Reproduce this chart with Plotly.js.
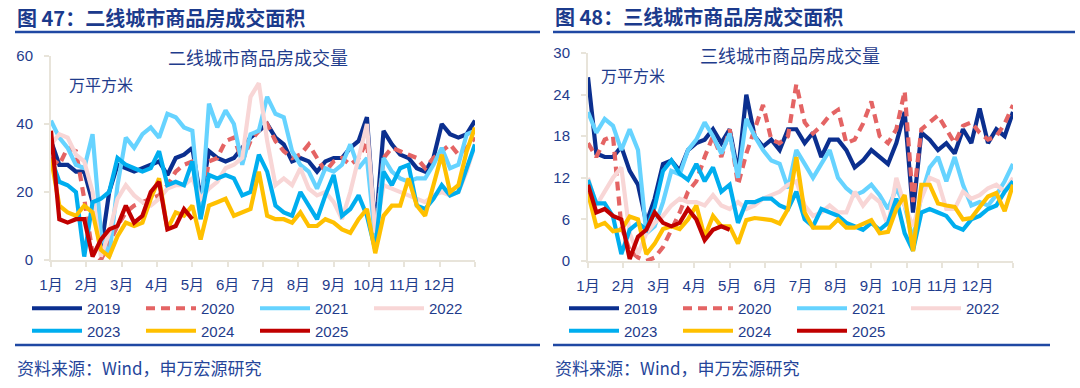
<!DOCTYPE html>
<html>
<head>
<meta charset="utf-8">
<script src="https://cdn.plot.ly/plotly-3.0.1.min.js"></script>
<style>
  html, body { margin: 0; padding: 0; background: #ffffff; }
  #wrap { width: 1080px; height: 388px; position: relative; overflow: hidden; }
  .panel { width: 540px; height: 388px; position: absolute; top: 0; }
  #p1 { left: 0; }
  #p2 { left: 540px; }
</style>
</head>
<body>
<div id="wrap"><div id="p1" class="panel"></div><div id="p2" class="panel"></div></div>
<script>
// ---------- data (weekly values, 万平方米) ----------
const years = ["2019", "2020", "2021", "2022", "2023", "2024", "2025"];
const monthLabels = ["1月","2月","3月","4月","5月","6月","7月","8月","9月","10月","11月","12月"];

// 二线城市
const tier2_2019 = [35,28,28,26,26,17,3,20,28,27,26,27,28,29,25,30,31,33,18,32,30,29,30,33,36,38,40,36,34,29,30,29,26,29,30,30,33,35,42,8,38,34,31,30,27,26,30,40,37,36,37,41];
const tier2_2020 = [30,28,33,32,18,2,0,5,10,14,16,17,18,19,22,26,28,29,15,29,30,35,36,29,35,38,40,35,32,30,31,34,30,26,29,30,28,30,35,8,30,33,32,31,30,27,30,32,34,31,33,36];
const tier2_2021 = [41,36,33,28,27,37,8,1,22,36,33,37,39,36,43,42,39,38,12,46,39,44,40,28,37,38,48,43,42,32,28,26,21,27,26,28,34,27,30,6,30,26,24,23,24,24,28,33,27,28,37,38];
const tier2_2022 = [34,37,36,31,29,20,1,8,18,22,19,17,16,18,21,22,22,24,18,21,23,27,28,30,48,52,35,22,24,22,27,21,19,20,17,12,20,30,40,8,22,21,20,19,18,17,19,20,19,20,26,34];
const tier2_2023 = [30,23,22,20,1,17,18,20,30,28,27,26,27,32,22,23,22,29,12,25,24,25,24,19,20,31,26,16,14,13,20,16,12,19,25,13,15,19,13,3,26,22,27,28,16,15,18,22,19,20,27,34];
const tier2_2024 = [30,16,14,13,16,14,3,1,7,11,10,11,18,24,9,14,13,16,6,16,17,18,13,14,15,26,13,12,12,11,14,10,10,12,11,9,8,12,15,2,13,16,16,24,16,13,22,31,20,22,32,39];
const tier2_2025 = [38,12,11,12,12,1,6,9,10,16,11,13,20,23,9,10,15,12];

// 三线城市
const tier3_2019 = [26.5,15.5,15,15,16.5,13,11,5.5,9,14,14.5,13,16,17,17.5,19,17,19,12.7,24,18,16.5,17.5,16,19,19,17,18.5,15,17.5,17.5,16,13.5,14.5,16,15,14,17,21.5,7,18.5,17.5,16,17,15.5,19,17,22,17,19,18,21.5];
const tier3_2020 = [17,15,17.5,18,5,1.5,0.5,0,0.5,2,4.5,7,10,11.5,15,18,15,19,11,15.5,19,22.5,17.5,17,18,25.5,20,18.4,19.5,21,21.8,17,17.5,19.8,23,18,17,19,24.5,8.5,19,20,21,19,17,19.5,20,18.5,17.5,18,19.8,22.5];
const tier3_2021 = [21.5,18.5,20.5,19.5,16,19,16,4,5,8.5,13,12.5,16,17.5,20,18,15.5,18.4,12,20.5,18,16,14.5,14,10.5,16,14,12,14,16,12,10.5,9.5,10,11,9.5,7.5,10.5,8,3,9.5,13.5,15,11.5,15,11,8,8.5,8,9.5,11.5,14];
const tier3_2022 = [12,8,10,12,13.5,4,1,4,5.5,6.5,8,9,8.5,8.5,8,9.5,8,7.5,8.5,7.5,8,9,9.5,10,11,11.5,8,6.5,7,8,7,7,10,8,9.5,8.5,5,12,8,5,9,12,11.5,7.5,7.5,10,9,9.5,10.5,11,10,12];
const tier3_2023 = [11.7,8.3,8.3,6.4,1,4.5,5.5,4.5,7.8,13,14.5,12.6,11.7,14,11.5,13.5,10,11,5.5,8.5,8.5,9,9,8,7.5,10,6,5,7.5,7,6.5,5.5,5,4.5,5.5,4.5,5.5,9,4,1.5,7,7.5,7,6.5,5,4.5,6,6.5,7.5,8,10,11.5];
const tier3_2024 = [9.8,5,5.5,4.3,4.5,6.4,6,1,2.5,4.6,5,4.6,6,8,3.5,6.5,5,5,2.5,5.9,6.2,6,5.9,5.4,7.5,15,7,4.8,4.8,4.8,6,4.8,4.8,5.4,5.9,4,4.2,7.5,9.5,1.4,11,11,8.3,8,7.8,6,6.2,7.8,9.3,9.8,7.2,11];
const tier3_2025 = [11,7,7.5,6.5,6,0.3,3.5,4.5,7,5.5,5,5.5,7.5,6,3,4.5,5,4.5];

const tier2Series = [tier2_2019, tier2_2020, tier2_2021, tier2_2022, tier2_2023, tier2_2024, tier2_2025];
const tier3Series = [tier3_2019, tier3_2020, tier3_2021, tier3_2022, tier3_2023, tier3_2024, tier3_2025];

const tier2Ticks = [0, 20, 40, 60];
const tier3Ticks = [0, 6, 12, 18, 24, 30];

// ---------- styling ----------
const colors = ["#0B2F8F", "#E46464", "#66D3FF", "#F8D6D6", "#00AEEF", "#FFC000", "#C00000"];
const dashes = ["solid", "9px,6px", "solid", "solid", "solid", "solid", "solid"];
const TXT = "#1F3C8C";
const AXIS = "#E8E4DA";
const FONT = "'Liberation Sans', Arial, 'Noto Sans CJK SC', sans-serif";
const CJK = "'Noto Sans CJK SC', 'Liberation Sans', sans-serif";

const WEEKS = 51; // week index span of the year
const monthTickVals = [];
for (let m = 0; m <= 12; m++) monthTickVals.push(m * WEEKS / 12);
const monthTickText = monthLabels.concat([""]);

function buildPanel(divId, opts) {
  const W = 540, H = 388;
  const m = opts.margin;
  const pw = W - m.l - m.r, ph = H - m.t - m.b;
  const px = x => (x - m.l) / pw;
  const py = y => (H - m.b - y) / ph;

  const traces = opts.series.map((ys, i) => ({
    type: "scatter",
    mode: "lines",
    name: years[i],
    y: ys,
    x0: 0,
    dx: 1,
    line: { color: colors[i], width: 4.2, dash: dashes[i] },
    hoverinfo: "skip",
    cliponaxis: false
  }));

  const ann = (text, x, y, size, xanchor, extra) => Object.assign({
    text: text, xref: "paper", yref: "paper", x: px(x), y: py(y),
    xanchor: xanchor, yanchor: "middle", showarrow: false,
    font: { family: CJK, size: size, color: TXT }
  }, extra || {});

  const layout = {
    width: W, height: H,
    margin: m,
    paper_bgcolor: "#ffffff", plot_bgcolor: "#ffffff",
    showlegend: true,
    font: { family: FONT, size: 15, color: TXT },
    xaxis: {
      range: [0, WEEKS], tickmode: "array", tickvals: monthTickVals, ticktext: monthTickText,
      showgrid: false, zeroline: false, showline: true, linecolor: AXIS, linewidth: 2,
      ticks: "outside", ticklen: 5, tickcolor: AXIS, tickwidth: 2,
      ticklabelstandoff: 5,
      tickfont: { family: FONT, size: 15, color: TXT }, fixedrange: true
    },
    yaxis: {
      range: opts.yRange, tickmode: "array", tickvals: opts.yTicks,
      showgrid: false, zeroline: false, showline: true, linecolor: AXIS, linewidth: 2,
      ticks: "outside", ticklen: 5, tickcolor: AXIS, tickwidth: 2,
      ticklabelstandoff: 8,
      tickfont: { family: FONT, size: 15, color: TXT }, fixedrange: true
    },
    legend: {
      orientation: "h", xref: "paper", yref: "paper",
      x: px(opts.legendX), y: py(opts.legendY), xanchor: "left", yanchor: "top",
      entrywidth: 49, entrywidthmode: "pixels", itemwidth: 50,
      font: { family: FONT, size: 15, color: TXT }, bgcolor: "rgba(0,0,0,0)",
      traceorder: "normal", itemclick: false, itemdoubleclick: false
    },
    annotations: [
      ann(opts.header, opts.headerX, 17, 20, "left", { font: { family: CJK, size: 20, color: "#1B3A8C", weight: 700 } }),
      ann(opts.innerTitle, opts.innerX, opts.innerY, 18, "center"),
      ann("万平方米", opts.unitX, opts.unitY, 16, "center"),
      ann("资料来源：Wind，申万宏源研究", opts.headerX, 367, 17, "left", { font: { family: CJK, size: 17, color: "#25459A" } })
    ],
    shapes: [
      { type: "line", xref: "paper", yref: "paper", x0: px(opts.headerX), x1: px(opts.topLineEnd), y0: py(32), y1: py(32),
        line: { color: "#1F48A3", width: 2.5 } },
      { type: "line", xref: "paper", yref: "paper", x0: px(opts.headerX), x1: px(opts.bottomLineEnd), y0: py(345), y1: py(345),
        line: { color: "#1F48A3", width: 2.5 } }
    ]
  };

  Plotly.newPlot(divId, traces, layout, { displayModeBar: false, staticPlot: true });
}

buildPanel("p1", {
  series: tier2Series, yRange: [0, 60], yTicks: tier2Ticks,
  margin: { l: 51, r: 65, t: 56, b: 128, pad: 0 },
  header: "图 47：二线城市商品房成交面积", headerX: 15,
  innerTitle: "二线城市商品房成交量", innerX: 258, innerY: 57,
  unitX: 101, unitY: 84,
  legendX: 27, legendY: 292,
  topLineEnd: 540, bottomLineEnd: 540
});

buildPanel("p2", {
  series: tier3Series, yRange: [0, 30], yTicks: tier3Ticks,
  margin: { l: 48, r: 67, t: 53, b: 127, pad: 0 },
  header: "图 48：三线城市商品房成交面积", headerX: 13,
  innerTitle: "三线城市商品房成交量", innerX: 250, innerY: 55,
  unitX: 93, unitY: 75,
  legendX: 24, legendY: 292,
  topLineEnd: 535, bottomLineEnd: 510
});
</script>
</body>
</html>
